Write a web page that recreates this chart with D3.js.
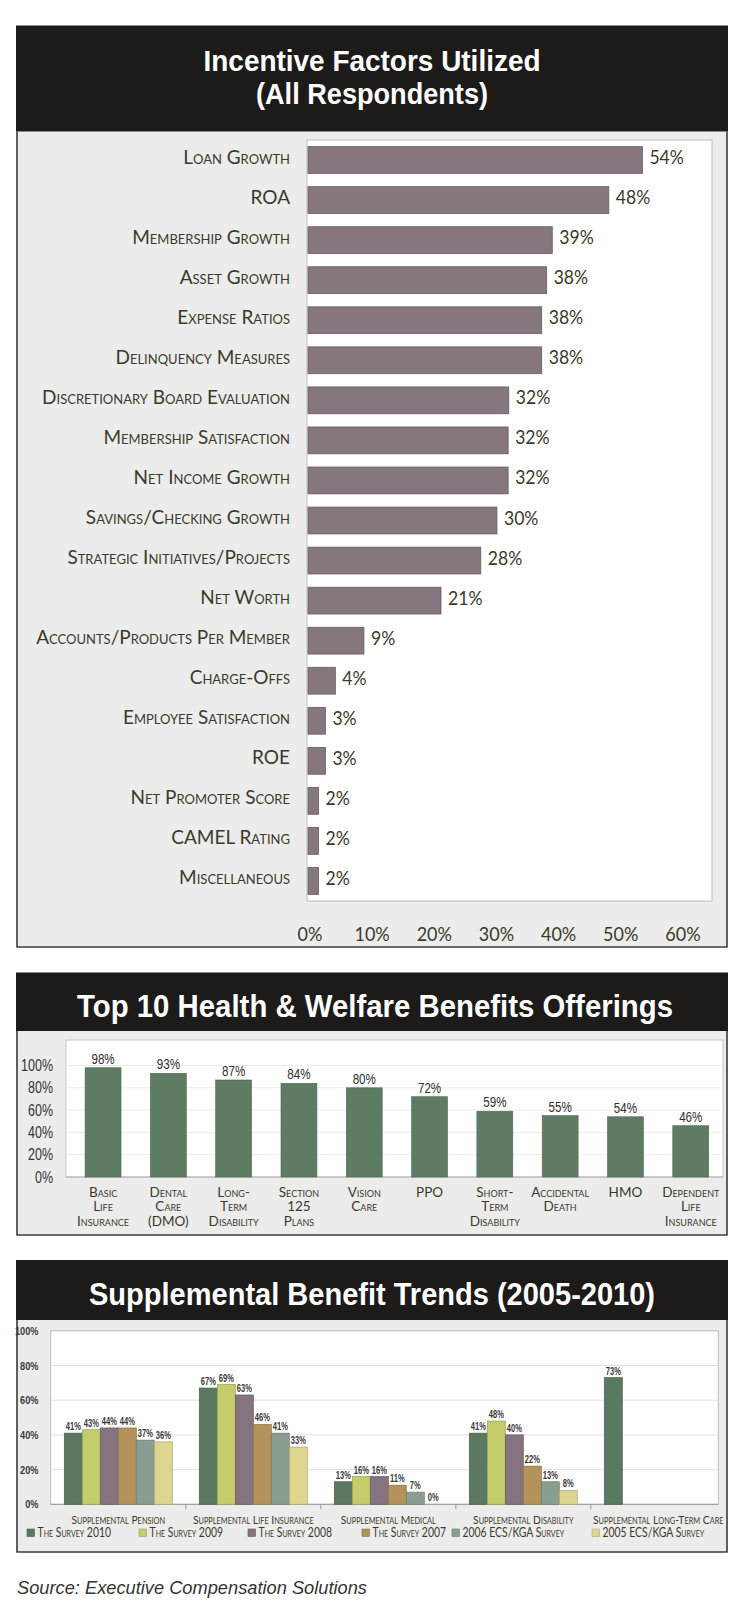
<!DOCTYPE html>
<html>
<head>
<meta charset="utf-8">
<script src="https://cdn.jsdelivr.net/npm/d3@7"></script>
<style>
  body { margin: 0; background: #fff; }
  svg { display: block; }
  .cat { font-family: Lato, "Open Sans", sans-serif; font-variant: small-caps; fill: #3b3a2a; }
  .narrow { font-family: "Liberation Sans Narrow", "Liberation Sans", Arial, sans-serif; }
  .title { font-family: "Liberation Sans Narrow", "Liberation Sans", Arial, sans-serif; font-weight: bold; fill: #fff; }
</style>
</head>
<body>
<svg id="chart" width="740" height="1607"></svg>
<script>
// --- chart 1: incentive factors
var factorNames = ["Loan Growth", "ROA", "Membership Growth", "Asset Growth", "Expense Ratios",
  "Delinquency Measures", "Discretionary Board Evaluation", "Membership Satisfaction",
  "Net Income Growth", "Savings/Checking Growth", "Strategic Initiatives/Projects", "Net Worth",
  "Accounts/Products Per Member", "Charge-Offs", "Employee Satisfaction", "ROE",
  "Net Promoter Score", "CAMEL Rating", "Miscellaneous"];
var factorValues = [53.8, 48.4, 39.3, 38.4, 37.6, 37.6, 32.3, 32.2, 32.2, 30.4, 27.8, 21.4,
  9.0, 4.4, 2.8, 2.8, 1.7, 1.7, 1.7];
var factorTicks = [0, 10, 20, 30, 40, 50, 60];

// --- chart 2: health & welfare
var benefitNames = [["Basic", "Life", "Insurance"], ["Dental", "Care", "(DMO)"], ["Long-", "Term", "Disability"],
  ["Section", "125", "Plans"], ["Vision", "Care"], ["PPO"], ["Short-", "Term", "Disability"],
  ["Accidental", "Death"], ["HMO"], ["Dependent", "Life", "Insurance"]];
var benefitValues = [98, 93, 87, 84, 80, 72, 59, 55, 54, 46];
var benefitTicks = [0, 20, 40, 60, 80, 100];

// --- chart 3: supplemental trends
var trendGroups = ["Supplemental Pension", "Supplemental Life Insurance", "Supplemental Medical",
  "Supplemental Disability", "Supplemental Long-Term Care"];
var trendSeries = ["The Survey 2010", "The Survey 2009", "The Survey 2008", "The Survey 2007",
  "2006 ECS/KGA Survey", "2005 ECS/KGA Survey"];
var survey2010 = [41, 67, 13, 41, 73];
var survey2009 = [43, 69, 16, 48, null];
var survey2008 = [44, 63, 16, 40, null];
var survey2007 = [44, 46, 11, 22, null];
var survey2006 = [37, 41, 7, 13, null];
var survey2005 = [36, 33, 0, 8, null];
var trendTicks = [0, 20, 40, 60, 80, 100];

var seriesColors = ["#5b7961", "#c4cc6c", "#85737f", "#b3935a", "#8a9d91", "#ddd68e"];
var labelColor = "#3b3a2a";

var svg = d3.select("#chart");
var panelBorders = [];

function panel(top, headBottom, bottom, lines) {
  svg.append("rect").attr("x", 17).attr("y", headBottom).attr("width", 710)
    .attr("height", bottom - headBottom).attr("fill", "#ececec");
  svg.append("rect").attr("x", 16).attr("y", top).attr("width", 712)
    .attr("height", headBottom - top).attr("fill", "#1d1a1a");
  lines.forEach(function(l) {
    svg.append("text").attr("class", "title").attr("x", l.x || 372).attr("y", l.y)
      .attr("text-anchor", "middle").attr("font-size", l.size)
      .attr("textLength", l.w).attr("lengthAdjust", "spacingAndGlyphs").text(l.t);
  });
  panelBorders.push([headBottom, bottom]);
}

// squeezed text, anchored at (x, y)
function squeeze(sel, fx, fy, k) {
  sel.attr("x", 0).attr("y", 0)
    .attr("transform", function(d, i) { return "translate(" + fx(d, i) + "," + fy(d, i) + ") scale(" + k + ",1)"; });
}

// ================= chart 1 =================
panel(25.5, 131.5, 947, [
  {t: "Incentive Factors Utilized", y: 71, size: 30, w: 337},
  {t: "(All Respondents)", y: 103.5, size: 30, w: 232}
]);

var x1 = d3.scaleLinear().domain([0, 65]).range([308, 712]);
var y1 = d3.scaleBand().domain(factorNames).range([140, 901]).paddingInner(0.33).paddingOuter(0.165);

svg.append("rect").attr("x", 307).attr("y", 140).attr("width", 405).attr("height", 761)
  .attr("fill", "#fff").attr("stroke", "#bdbdbd").attr("stroke-width", 1);

var g1 = svg.append("g");
g1.selectAll("rect.bar").data(factorNames).join("rect").attr("class", "bar")
  .attr("x", x1(0)).attr("y", function(d) { return y1(d); })
  .attr("width", function(d, i) { return x1(factorValues[i]) - x1(0); })
  .attr("height", y1.bandwidth())
  .attr("fill", "#85767f").attr("stroke", "#6a5c65").attr("stroke-width", 0.8);

g1.selectAll("text.name").data(factorNames).join("text").attr("class", "cat name")
  .attr("x", 290).attr("y", function(d) { return y1(d) + y1.bandwidth() / 2 + 3.5; })
  .attr("text-anchor", "end").attr("font-size", 19).text(function(d) { return d; });

g1.selectAll("text.val").data(factorNames).join("text").attr("class", "val")
  .attr("font-family", "Lato, sans-serif").attr("font-size", 20).attr("fill", labelColor)
  .text(function(d, i) { return Math.round(factorValues[i]) + "%"; })
  .call(squeeze, function(d, i) { return x1(factorValues[i]) + 7; },
    function(d) { return y1(d) + y1.bandwidth() / 2 + 4; }, 0.88);

var ax1 = svg.append("g").attr("transform", "translate(0,941)")
  .call(d3.axisBottom(x1).tickValues(factorTicks).tickFormat(function(d) { return d + "%"; })
    .tickSize(0).tickPadding(0));
ax1.select(".domain").remove();
ax1.selectAll("text").attr("y", 0).attr("dy", 0).attr("font-family", "Lato, sans-serif")
  .attr("font-size", 20).attr("fill", labelColor).attr("transform", "scale(0.9,1)");
ax1.selectAll(".tick").attr("transform", function(d) { return "translate(" + (x1(d) + 2) + ",0)"; });

// ================= chart 2 =================
panel(972.5, 1031, 1235, [
  {t: "Top 10 Health & Welfare Benefits Offerings", x: 375, y: 1016.5, size: 32, w: 596}
]);

var x2 = d3.scaleBand().domain(d3.range(benefitValues.length)).range([70.4, 723.4])
  .paddingInner(0.45).paddingOuter(0.225);
var y2 = d3.scaleLinear().domain([0, 100]).range([1177, 1065.5]);

svg.append("rect").attr("x", 66).attr("y", 1040).attr("width", 657).attr("height", 137)
  .attr("fill", "#fff").attr("stroke", "#c8c8c8");
svg.append("g").selectAll("line").data(benefitTicks.slice(1)).join("line")
  .attr("x1", 66).attr("x2", 723).attr("y1", function(d) { return y2(d); }).attr("y2", function(d) { return y2(d); })
  .attr("stroke", "#ececec");
svg.append("line").attr("x1", 66).attr("x2", 723).attr("y1", y2(0)).attr("y2", y2(0)).attr("stroke", "#b0b0b0");

svg.append("g").selectAll("rect").data(benefitValues).join("rect")
  .attr("x", function(d, i) { return x2(i); }).attr("y", function(d) { return y2(d); })
  .attr("width", x2.bandwidth()).attr("height", function(d) { return y2(0) - y2(d); })
  .attr("fill", "#5e7b64").attr("stroke", "#4e6954").attr("stroke-width", 0.6);

svg.append("g").selectAll("text").data(benefitValues).join("text").attr("class", "narrow")
  .attr("text-anchor", "middle").attr("font-size", 14.5).attr("fill", "#2e2e2e")
  .text(function(d) { return d + "%"; })
  .call(squeeze, function(d, i) { return x2(i) + x2.bandwidth() / 2; },
    function(d) { return y2(d) - 4; }, 0.8);

var ax2 = svg.append("g").attr("transform", "translate(53,0)")
  .call(d3.axisLeft(y2).tickValues(benefitTicks).tickFormat(function(d) { return d + "%"; })
    .tickSize(0).tickPadding(0));
ax2.select(".domain").remove();
ax2.selectAll("text").attr("class", "narrow").attr("font-size", 16).attr("fill", "#333")
  .attr("transform", "scale(0.78,1)");

var catG = svg.append("g").selectAll("text").data(benefitNames).join("text").attr("class", "cat")
  .attr("text-anchor", "middle").attr("font-size", 13.5);
catG.selectAll("tspan").data(function(d, i) { return d.map(function(t) { return {t: t, i: i}; }); })
  .join("tspan")
  .attr("x", function(d) { return x2(d.i) + x2.bandwidth() / 2; })
  .attr("y", function(d, j) { return 1197 + j * 14.3; })
  .text(function(d) { return d.t; });

// ================= chart 3 =================
panel(1260, 1320, 1552, [
  {t: "Supplemental Benefit Trends (2005-2010)", y: 1305, size: 32, w: 566}
]);

var trendRows = [survey2010, survey2009, survey2008, survey2007, survey2006, survey2005];
var x3 = d3.scaleBand().domain(trendGroups).range([50.8, 725.8]).paddingInner(0.2).paddingOuter(0.1);
var xs = d3.scaleBand().domain(trendSeries).range([0, x3.bandwidth()]);
var y3 = d3.scaleLinear().domain([0, 100]).range([1504.3, 1330.8]);

svg.append("defs").append("clipPath").attr("id", "clip3").append("rect")
  .attr("x", 17).attr("y", 1320).attr("width", 708).attr("height", 232);

svg.append("rect").attr("x", 50.7).attr("y", y3(100)).attr("width", 667.6).attr("height", y3(0) - y3(100))
  .attr("fill", "#fff").attr("stroke", "#bdbdbd");
svg.append("g").selectAll("line").data(trendTicks.slice(1, -1)).join("line")
  .attr("x1", 50.7).attr("x2", 718.3).attr("y1", function(d) { return y3(d); }).attr("y2", function(d) { return y3(d); })
  .attr("stroke", "#e2e2e2");
svg.append("line").attr("x1", 50.7).attr("x2", 718.3).attr("y1", y3(0)).attr("y2", y3(0)).attr("stroke", "#9a9a9a");
svg.append("g").selectAll("line").data(trendGroups.slice(1)).join("line")
  .attr("x1", function(d) { return x3(d) - x3.step() * 0.1; }).attr("x2", function(d) { return x3(d) - x3.step() * 0.1; })
  .attr("y1", y3(0)).attr("y2", y3(0) + 5).attr("stroke", "#9a9a9a");

var bars3 = [];
trendRows.forEach(function(row, s) {
  row.forEach(function(v, gi) {
    if (v !== null) bars3.push({g: trendGroups[gi], s: trendSeries[s], si: s, v: v});
  });
});

var g3 = svg.append("g").attr("clip-path", "url(#clip3)");
g3.selectAll("rect").data(bars3.filter(function(d) { return d.v > 0; })).join("rect")
  .attr("x", function(d) { return x3(d.g) + xs(d.s); }).attr("y", function(d) { return y3(d.v); })
  .attr("width", xs.bandwidth()).attr("height", function(d) { return y3(0) - y3(d.v); })
  .attr("fill", function(d) { return seriesColors[d.si]; })
  .attr("stroke", function(d) { return d3.color(seriesColors[d.si]).darker(0.7); }).attr("stroke-width", 0.7);

g3.selectAll("text.v").data(bars3).join("text").attr("class", "narrow v")
  .attr("text-anchor", "middle").attr("font-size", 10.5).attr("font-weight", "bold").attr("fill", "#3a3a3a")
  .text(function(d) { return d.v + "%"; })
  .call(squeeze, function(d) { return x3(d.g) + xs(d.s) + xs.bandwidth() / 2; },
    function(d) { return y3(d.v) - 3; }, 0.72);

var ax3b = g3.append("g").attr("transform", "translate(0,1524)")
  .call(d3.axisBottom(x3).tickSize(0).tickPadding(0));
ax3b.select(".domain").remove();
ax3b.selectAll("text").attr("y", 0).attr("dy", 0).attr("class", "cat").attr("font-size", 12)
  .attr("transform", "scale(0.86,1)");

var ax3 = svg.append("g").attr("transform", "translate(38.5,0)")
  .call(d3.axisLeft(y3).tickValues(trendTicks).tickFormat(function(d) { return d + "%"; })
    .tickSize(0).tickPadding(0));
ax3.select(".domain").remove();
ax3.selectAll("text").attr("class", "narrow").attr("font-size", 11.5).attr("font-weight", "bold")
  .attr("fill", "#3a3a3a").attr("transform", "scale(0.8,1)");

// legend
var legendX = [27, 139, 248, 362, 452, 592];
var leg = g3.selectAll("g.leg").data(trendSeries).join("g").attr("class", "leg")
  .attr("transform", function(d, i) { return "translate(" + legendX[i] + ",1537)"; });
leg.append("rect").attr("x", 0).attr("y", -8).attr("width", 7.5).attr("height", 7.5)
  .attr("fill", function(d, i) { return seriesColors[i]; })
  .attr("stroke", function(d, i) { return d3.color(seriesColors[i]).darker(0.7); }).attr("stroke-width", 0.6);
leg.append("text").attr("class", "cat").attr("x", 0).attr("y", 0).attr("font-size", 13)
  .attr("transform", "translate(10.5,0) scale(0.8,1)")
  .text(function(d) { return d; });

// panel borders on top
panelBorders.forEach(function(b) {
  svg.append("path").attr("d", "M17," + b[0] + "V" + b[1] + "H727V" + b[0])
    .attr("fill", "none").attr("stroke", "#3a3a3a").attr("stroke-width", 1.6);
});

svg.append("text").attr("x", 17).attr("y", 1593.5)
  .attr("font-family", "Liberation Sans, Arial, sans-serif").attr("font-style", "italic")
  .attr("font-size", 18).attr("fill", "#333").attr("textLength", 350).attr("lengthAdjust", "spacingAndGlyphs")
  .text("Source: Executive Compensation Solutions");
</script>
</body>
</html>
